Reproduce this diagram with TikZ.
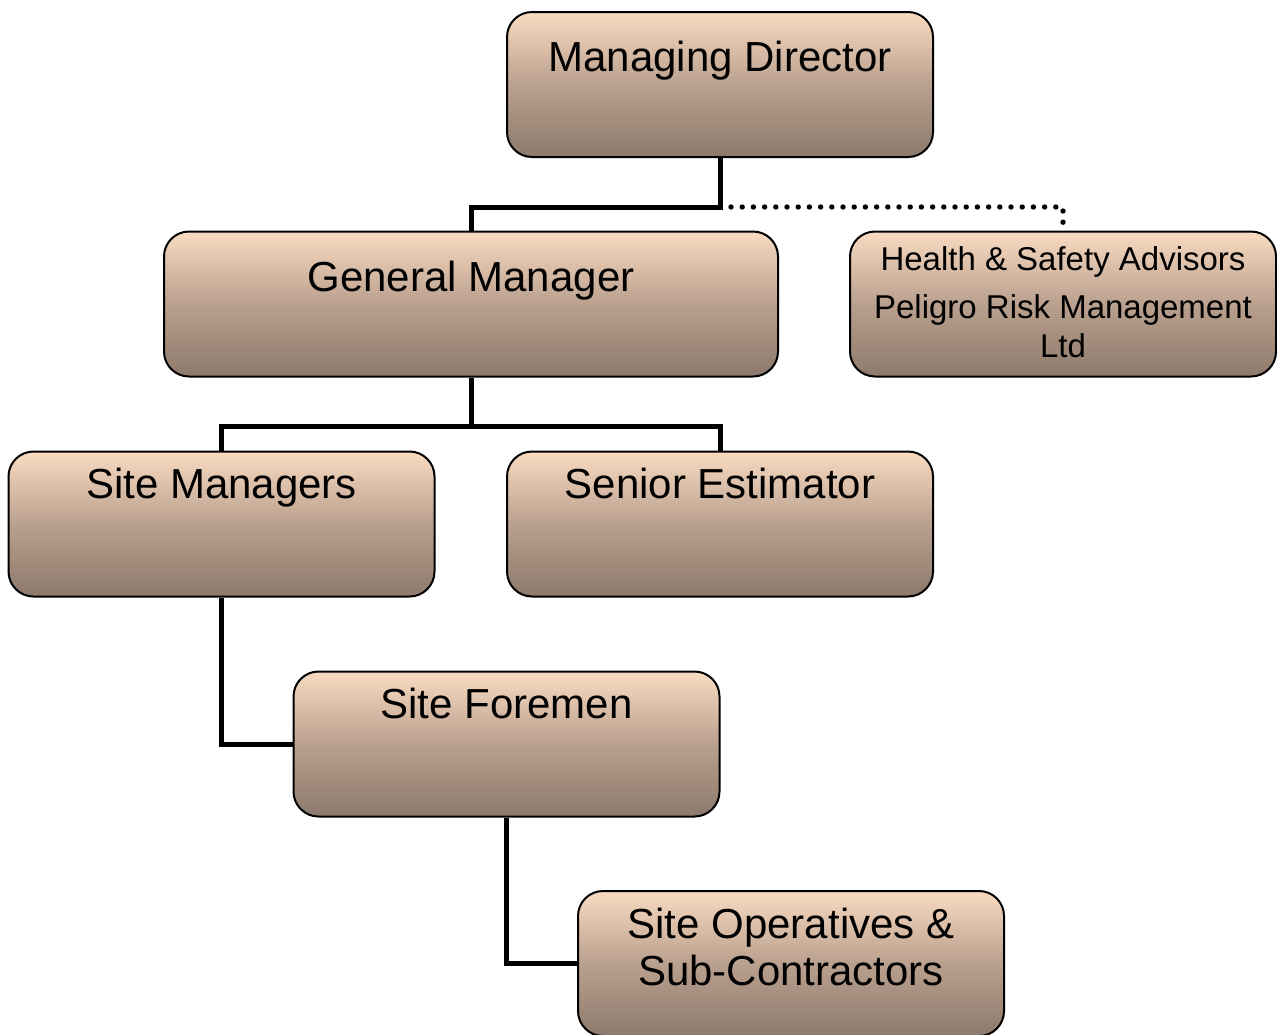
\documentclass[tikz,border=0pt]{standalone}
\usepackage{fontspec}
\setmainfont{Liberation Sans}
\begin{document}
\definecolor{peachtop}{HTML}{F9DBC1}
\definecolor{peachmid}{HTML}{BAA08E}
\definecolor{peachbot}{HTML}{8C7A6C}
\begin{tikzpicture}[x=0.5pt,y=-0.5pt,
  orgbox/.style={draw=black, line width=1pt, rounded corners=12.5pt,
    top color=peachtop, bottom color=peachbot, middle color=peachmid,
    minimum width=213pt, minimum height=72.5pt, inner sep=0pt},
  bigtxt/.style={anchor=base, inner sep=0pt, font=\fontsize{21}{25}\selectfont},
  smalltxt/.style={anchor=base, inner sep=0pt, font=\fontsize{16.5}{20}\selectfont},
  conn/.style={line width=2.5pt, line join=miter},
  dotconn/.style={line width=2.7pt, line cap=round, dash pattern=on 0pt off 5.6pt}]
\useasboundingbox (0,0) rectangle (1277,1034);

% boxes
\node[orgbox] (md) at (720,84.5) {};
\node[orgbox, minimum width=307pt] (gm) at (471,304) {};
\node[orgbox] (hs) at (1063,304) {};
\node[orgbox] (sm) at (221.5,524) {};
\node[orgbox] (se) at (720,524) {};
\node[orgbox] (sf) at (506.5,744) {};
\node[orgbox] (so) at (791,963.5) {};

% titles
\node[bigtxt] (mdt) at (720,71) {Managing Director};
\node[bigtxt] (gmt) at (471,291) {General Manager};
\node[smalltxt] (hst1) at (1063,270) {Health \& Safety Advisors};
\node[smalltxt] (hst2) at (1063,318) {Peligro Risk Management};
\node[smalltxt] (hst3) at (1063,357) {Ltd};
\node[bigtxt] (smt) at (221.5,498) {Site Managers};
\node[bigtxt] (set) at (720,498) {Senior Estimator};
\node[bigtxt] (sft) at (506.5,718) {Site Foremen};
\node[bigtxt] (sot1) at (791,938) {Site Operatives \&};
\node[bigtxt] (sot2) at (791,985) {Sub-Contractors};

% connectors
\coordinate (j1) at (720,207);
\coordinate (j2) at (471,426);
\draw[conn] (md.south) -- (j1) -| (gm.north);
\draw[dotconn] ([xshift=5.5pt]j1) -| (hs.north);
\draw[conn] (gm.south) -- (j2);
\draw[conn] (sm.north) -- (sm.north |- j2) -- (se.north |- j2) -- (se.north);
\draw[conn] (sm.south) |- (sf.west);
\draw[conn] (sf.south) |- (so.west);
\end{tikzpicture}
\end{document}
